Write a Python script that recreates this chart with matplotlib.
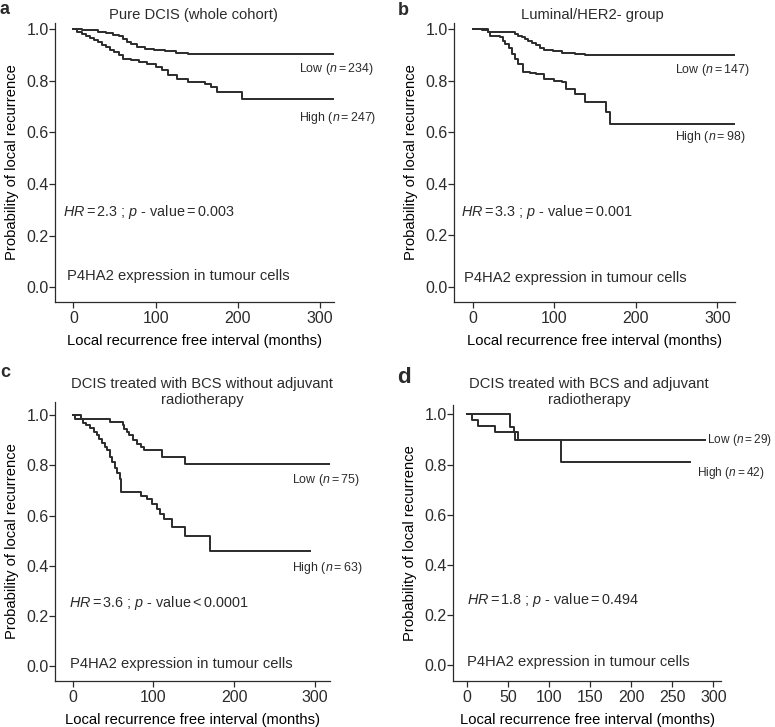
import numpy as np
import matplotlib
matplotlib.use('Agg')
import matplotlib.pyplot as plt

INK = '#2b2b2b'
plt.rcParams.update({
    'font.family': ['Liberation Sans', 'DejaVu Sans'],
    'font.size': 10.4,
    'mathtext.fontset': 'custom',
    'mathtext.rm': 'Liberation Sans',
    'mathtext.it': 'Liberation Sans:italic',
    'text.color': INK, 'axes.edgecolor': INK,
    'xtick.color': INK, 'ytick.color': INK,
    'axes.spines.top': False, 'axes.spines.right': False,
})

# ---- Kaplan-Meier step data (time in months, survival) ----
# panel a: pure DCIS (whole cohort)
a_low_t = [0, 10, 20, 30, 40, 48, 55, 60, 65, 70, 78, 87, 98, 111, 125, 140, 317]
a_low_s = [1.0, 0.998, 0.995, 0.99, 0.985, 0.979, 0.972, 0.962, 0.952, 0.942, 0.932, 0.925, 0.918, 0.914, 0.909, 0.903, 0.903]
a_high_t = [0, 5, 10, 15, 20, 25, 30, 35, 40, 45, 50, 55, 60, 70, 80, 90, 100, 108, 115, 126, 140, 160, 168, 175, 205, 317]
a_high_s = [1.0, 0.99, 0.983, 0.975, 0.967, 0.959, 0.951, 0.94, 0.93, 0.92, 0.912, 0.9, 0.886, 0.879, 0.873, 0.864, 0.854, 0.84, 0.822, 0.806, 0.796, 0.789, 0.776, 0.757, 0.728, 0.728]
# panel b: luminal/HER2- group
b_low_t = [0, 12, 19, 52, 56, 60, 64, 68, 73, 78, 83, 88, 98, 109, 125, 138, 321]
b_low_s = [1.0, 0.995, 0.988, 0.98, 0.973, 0.967, 0.96, 0.953, 0.947, 0.937, 0.926, 0.92, 0.913, 0.908, 0.903, 0.898, 0.898]
b_high_t = [0, 19, 21, 33, 37, 40, 44, 48, 52, 56, 62, 70, 78, 87, 100, 109, 115, 125, 138, 164, 168, 321]
b_high_s = [1.0, 0.99, 0.973, 0.969, 0.955, 0.943, 0.925, 0.904, 0.885, 0.865, 0.833, 0.83, 0.827, 0.805, 0.8, 0.794, 0.768, 0.749, 0.717, 0.678, 0.633, 0.633]
# panel c: BCS without adjuvant radiotherapy
c_low_t = [0, 10, 46, 62, 64, 67, 70, 75, 80, 85, 88, 110, 139, 318]
c_low_s = [1.0, 0.987, 0.975, 0.96, 0.947, 0.933, 0.92, 0.9, 0.887, 0.873, 0.86, 0.835, 0.805, 0.805]
c_high_t = [0, 3, 10, 13, 17, 22, 26, 30, 33, 36, 40, 43, 46, 49, 52, 55, 58, 60, 85, 92, 98, 104, 108, 113, 123, 139, 170, 294]
c_high_s = [1.0, 0.987, 0.984, 0.97, 0.96, 0.95, 0.935, 0.92, 0.905, 0.89, 0.875, 0.86, 0.835, 0.815, 0.79, 0.77, 0.745, 0.695, 0.68, 0.665, 0.645, 0.625, 0.605, 0.585, 0.555, 0.52, 0.46, 0.46]
# panel d: BCS and adjuvant radiotherapy
d_low_t = [0, 53, 57, 62, 290]
d_low_s = [1.0, 0.948, 0.93, 0.897, 0.897]
d_high_t = [0, 6.5, 14, 34, 58, 115, 272]
d_high_s = [1.0, 0.977, 0.955, 0.93, 0.897, 0.811, 0.811]

letters = ['a', 'b', 'c', 'd']
titles = ['Pure DCIS (whole cohort)', 'Luminal/HER2- group',
          'DCIS treated with BCS without adjuvant\nradiotherapy',
          'DCIS treated with BCS and adjuvant\nradiotherapy']
low_n = [234, 147, 75, 29]
high_n = [247, 98, 63, 42]
hr_texts = [r'$\mathit{HR}=2.3$ ; $\mathit{p}$ - value$=$0.003',
            r'$\mathit{HR}=3.3$ ; $\mathit{p}$ - value$=$0.001',
            r'$\mathit{HR}=3.6$ ; $\mathit{p}$ - value$<$0.0001',
            r'$\mathit{HR}=1.8$ ; $\mathit{p}$ - value$=$0.494']
curves = [((a_low_t, a_low_s), (a_high_t, a_high_s)),
          ((b_low_t, b_low_s), (b_high_t, b_high_s)),
          ((c_low_t, c_low_s), (c_high_t, c_high_s)),
          ((d_low_t, d_low_s), (d_high_t, d_high_s))]

W, H = 775, 727
fig = plt.figure(figsize=(W / 100, H / 100), dpi=100)

# layout in pixels: axes box (l, t, r, b), limits, label anchors
boxes = [(55, 23, 334, 302), (454, 23, 735, 302), (55, 402, 330, 681), (453, 405, 721, 681)]
xlims = [(-22.3, 317), (-22.9, 321.6), (-21.9, 318.6), (-17, 309.4)]
ylims = [(-0.057, 1.024), (-0.059, 1.023), (-0.059, 1.053), (-0.062, 1.037)]
low_pos = [(274.5, 0.846), (248, 0.841), (271, 0.741), (292, 0.897)]
high_pos = [(274.5, 0.656), (248, 0.58), (271, 0.393), (280.5, 0.767)]
hr_pos = [(-12.2, 0.293), (-14.3, 0.291), (-4.2, 0.252), (0.5, 0.262)]
p4_pos = [(-8, 0.044), (-11, 0.036), (-3.3, 0.008), (0.5, 0.013)]
title_pos = [(193, 15), (592, 15), (202, 392), (589, 392)]
letter_pos = [(0, 14), (398, 15), (0, 377), (397, 383)]
letter_size = [13, 13, 13, 16]
label_size = [8.9, 8.9, 8.9, 8.6]

for i in range(4):
    l, t, r, b = boxes[i]
    ax = fig.add_axes([l / W, 1 - b / H, (r - l) / W, (b - t) / H])
    (lt, ls), (ht, hs) = curves[i]
    ax.step(lt, ls, where='post', color=INK, lw=1.4)
    ax.step(ht, hs, where='post', color=INK, lw=1.4)
    ax.set_xlim(*xlims[i])
    ax.set_ylim(*ylims[i])
    if i == 3:
        ax.set_xticks(np.arange(0, 301, 50))
    else:
        ax.set_xticks([0, 100, 200, 300])
    ax.set_yticks([0, 0.2, 0.4, 0.6, 0.8, 1.0])
    ax.set_yticklabels(['0.0', '0.2', '0.4', '0.6', '0.8', '1.0'])
    ax.tick_params(direction='out', length=4, width=0.9, labelsize=11.5)
    ax.tick_params(axis='y', pad=0.5)
    ax.tick_params(axis='x', pad=2.5)
    for sp in ax.spines.values():
        sp.set_linewidth(0.9)
    ax.set_xlabel('Local recurrence free interval (months)', fontsize=10.6, labelpad=6)
    ax.set_ylabel('Probability of local recurrence', fontsize=10.6, labelpad=5)
    ax.text(*low_pos[i], r'Low ($\mathit{n}=%d$)' % low_n[i], fontsize=label_size[i],
            va='center', ha='left', clip_on=False)
    ax.text(*high_pos[i], r'High ($\mathit{n}=%d$)' % high_n[i], fontsize=label_size[i],
            va='center', ha='left', clip_on=False)
    ax.text(*hr_pos[i], hr_texts[i], fontsize=10.4, va='center', ha='left')
    ax.text(*p4_pos[i], 'P4HA2 expression in tumour cells', fontsize=10.6, va='center', ha='left')
    fig.text(title_pos[i][0] / W, 1 - title_pos[i][1] / H, titles[i], fontsize=10.6,
             ha='center', va='center', linespacing=1.2)
    fig.text(letter_pos[i][0] / W, 1 - letter_pos[i][1] / H, letters[i], fontsize=letter_size[i],
             fontweight='bold', ha='left', va='baseline')

fig.savefig('out.png', dpi=100)
